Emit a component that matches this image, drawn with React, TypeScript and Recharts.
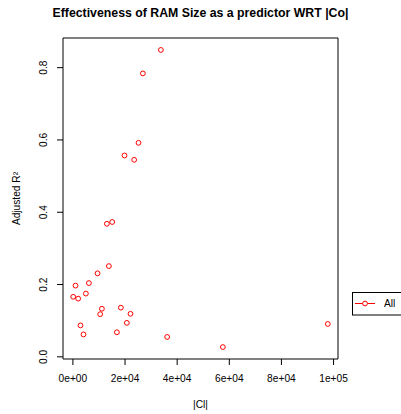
import React from "react";
import {
  ScatterChart,
  Scatter,
  XAxis,
  YAxis,
  ReferenceArea,
  Legend,
} from "recharts";

// |Cl| per sample and the adjusted R^2 of the RAM size model
const clSizes = [
  33750, 26850, 25170, 19800, 23500, 13040, 15070, 13800, 9450, 6140, 1000,
  115, 2030, 4980, 11120, 10470, 18400, 22090, 20700, 16870, 2910, 4070,
  36160, 57530, 97800,
];
const adjR2 = [
  0.849, 0.784, 0.592, 0.557, 0.545, 0.368, 0.373, 0.251, 0.231, 0.204, 0.197,
  0.166, 0.161, 0.175, 0.133, 0.118, 0.136, 0.119, 0.094, 0.068, 0.087, 0.062,
  0.055, 0.027, 0.091,
];

const xTicks = [0, 20000, 40000, 60000, 80000, 100000];
const yTicks = [0, 0.2, 0.4, 0.6, 0.8];

const seriesName = "All";
const title = "Effectiveness of RAM Size as a predictor WRT |Co|";
const xTitle = "|Cl|";
const yTitle = "Adjusted R\u00B2";

const xDomain = [-3800, 101700];
const yDomain = [-0.006, 0.882];

const FONT = "'Liberation Sans', Arial, Helvetica, sans-serif";
const RED = "#ff0000";

const points = clSizes.map((x, i) => ({ x, y: adjR2[i] }));

// R-style scientific notation: 2e+04, 1e+05 ...
const sci = (v: number) => {
  if (v === 0) return "0e+00";
  const e = Math.floor(Math.log10(Math.abs(v)));
  const m = Math.round(v / Math.pow(10, e));
  return `${m}e${e < 0 ? "-" : "+"}${String(Math.abs(e)).padStart(2, "0")}`;
};

const XTick = ({ x, y, payload }: any) => (
  <text
    x={x}
    y={y}
    dy={16.5}
    textAnchor="middle"
    fontSize={10.2}
    fontFamily={FONT}
    fill="#000"
  >
    {sci(payload.value)}
  </text>
);

const YTick = ({ x, y, payload }: any) => {
  const cx = x - 13.5;
  return (
    <text
      x={cx}
      y={y}
      dy="0.35em"
      transform={`rotate(-90, ${cx}, ${y})`}
      textAnchor="middle"
      fontSize={10.2}
      fontFamily={FONT}
      fill="#000"
    >
      {payload.value.toFixed(1)}
    </text>
  );
};

const OpenCircle = (props: any) => (
  <circle
    cx={props.cx}
    cy={props.cy}
    r={2.4}
    fill="none"
    stroke={RED}
    strokeWidth={1}
  />
);

const LegendBox = ({ payload }: any) => {
  const item = (payload && payload[0]) || { value: seriesName };
  return (
    <svg width={70} height={24} style={{ display: "block" }}>
      <rect x={0.5} y={0.5} width={69} height={22.5} fill="#fff" stroke="#000" />
      <line x1={3} x2={23} y1={11.5} y2={11.5} stroke={RED} strokeWidth={1} />
      <circle cx={13} cy={11.5} r={2.4} fill="#fff" stroke={RED} strokeWidth={1} />
      <text
        x={32}
        y={11.5}
        dy="0.35em"
        fontSize={10.2}
        fontFamily={FONT}
        fill="#000"
      >
        {item.value}
      </text>
    </svg>
  );
};

export default function App() {
  return (
    <div
      style={{
        position: "absolute",
        left: 0,
        top: 0,
        width: 401,
        height: 414,
        overflow: "hidden",
        background: "#fff",
      }}
    >
      <div
        style={{
          position: "absolute",
          left: 0,
          top: 5,
          width: 401,
          textAlign: "center",
          fontFamily: FONT,
          fontWeight: "bold",
          fontSize: 12.3,
          lineHeight: "16px",
          color: "#000",
          zIndex: 1,
        }}
      >
        {title}
      </div>
      <ScatterChart
        width={401}
        height={414}
        margin={{ top: 38, right: 63, bottom: 0, left: 0 }}
      >
        <XAxis
          type="number"
          dataKey="x"
          domain={xDomain}
          allowDataOverflow
          ticks={xTicks}
          interval={0}
          height={55}
          axisLine={false}
          tickLine={{ stroke: "#000", strokeWidth: 1 }}
          tickSize={6}
          tickMargin={0}
          tick={<XTick />}
          label={{
            content: ({ viewBox }: any) => (
              <text
                x={viewBox.x + viewBox.width / 2}
                y={viewBox.y + 45}
                dy="0.35em"
                textAnchor="middle"
                fontSize={10.2}
                fontFamily={FONT}
                fill="#000"
              >
                {xTitle}
              </text>
            ),
          }}
        />
        <YAxis
          type="number"
          dataKey="y"
          domain={yDomain}
          allowDataOverflow
          ticks={yTicks}
          interval={0}
          width={63}
          axisLine={false}
          tickLine={{ stroke: "#000", strokeWidth: 1 }}
          tickSize={6}
          tickMargin={0}
          tick={<YTick />}
          label={{
            content: ({ viewBox }: any) => {
              const cx = 16;
              const cy = viewBox.y + viewBox.height / 2;
              return (
                <text
                  x={cx}
                  y={cy}
                  dy="0.35em"
                  transform={`rotate(-90, ${cx}, ${cy})`}
                  textAnchor="middle"
                  fontSize={10.2}
                  fontFamily={FONT}
                  fill="#000"
                >
                  {yTitle}
                </text>
              );
            },
          }}
        />
        <ReferenceArea
          x1={xDomain[0]}
          x2={xDomain[1]}
          y1={yDomain[0]}
          y2={yDomain[1]}
          fill="none"
          stroke="#000"
          strokeWidth={1}
          ifOverflow="visible"
        />
        <Scatter
          name={seriesName}
          data={points}
          fill={RED}
          shape={<OpenCircle />}
          isAnimationActive={false}
        />
        <Legend
          layout="horizontal"
          align="center"
          verticalAlign="middle"
          wrapperStyle={{ left: 352, top: 292, width: 70, height: 24 }}
          content={<LegendBox />}
        />
      </ScatterChart>
    </div>
  );
}
